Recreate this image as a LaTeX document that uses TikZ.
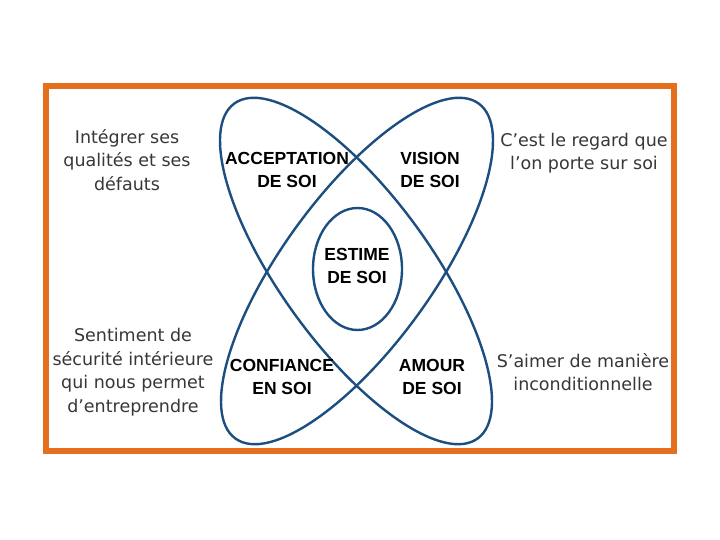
\documentclass[tikz,border=0pt]{standalone}
\usepackage{fontspec}
\setmainfont{DejaVu Sans}
\newfontfamily\labfont{Liberation Sans}
\usetikzlibrary{shapes.geometric}
\definecolor{frameor}{RGB}{228,112,30}
\definecolor{ellblue}{RGB}{28,78,128}
\definecolor{desctext}{RGB}{55,55,55}
\tikzset{
  petal/.style={draw=ellblue, line width=2.4pt, ellipse, inner sep=0pt, minimum width=414pt, minimum height=150pt},
  core/.style={draw=ellblue, line width=2.4pt, ellipse, inner sep=0pt, minimum width=89pt, minimum height=122pt},
  desc/.style={text=desctext, align=center, inner sep=0pt, font=\fontsize{17.5}{23.5}\selectfont},
  lab/.style={text=black, align=center, inner sep=0pt, font=\labfont\bfseries\fontsize{17.5}{23.5}\selectfont}
}
\begin{document}
\begin{tikzpicture}[x=1pt,y=-1pt]
\useasboundingbox[fill=white] (0,0) rectangle (720,540);
\draw[frameor, line width=6pt] (46,86) rectangle (674,451);
\node[petal, rotate=-54] (pA) at (356,271) {};
\node[petal, rotate=54] (pB) at (357,271) {};
\node[core] (est) at (357.5,269) {};
\node[lab] (lacc) at (287,170) {ACCEPTATION\\DE SOI};
\node[lab] (lvis) at (430,170) {VISION\\DE SOI};
\node[lab] (lest) at (357,266) {ESTIME\\DE SOI};
\node[lab] (lconf) at (282,377) {CONFIANCE\\EN SOI};
\node[lab] (lam) at (432,377) {AMOUR\\DE SOI};
\node[desc] (dacc) at (127,160) {Intégrer ses\\qualités et ses\\défauts};
\node[desc] (dvis) at (584,153) {C’est le regard que\\l’on porte sur soi};
\node[desc] (dconf) at (133,372) {Sentiment de\\sécurité intérieure\\qui nous permet\\d’entreprendre};
\node[desc] (dam) at (583,372) {S’aimer de manière\\inconditionnelle};
\end{tikzpicture}
\end{document}
